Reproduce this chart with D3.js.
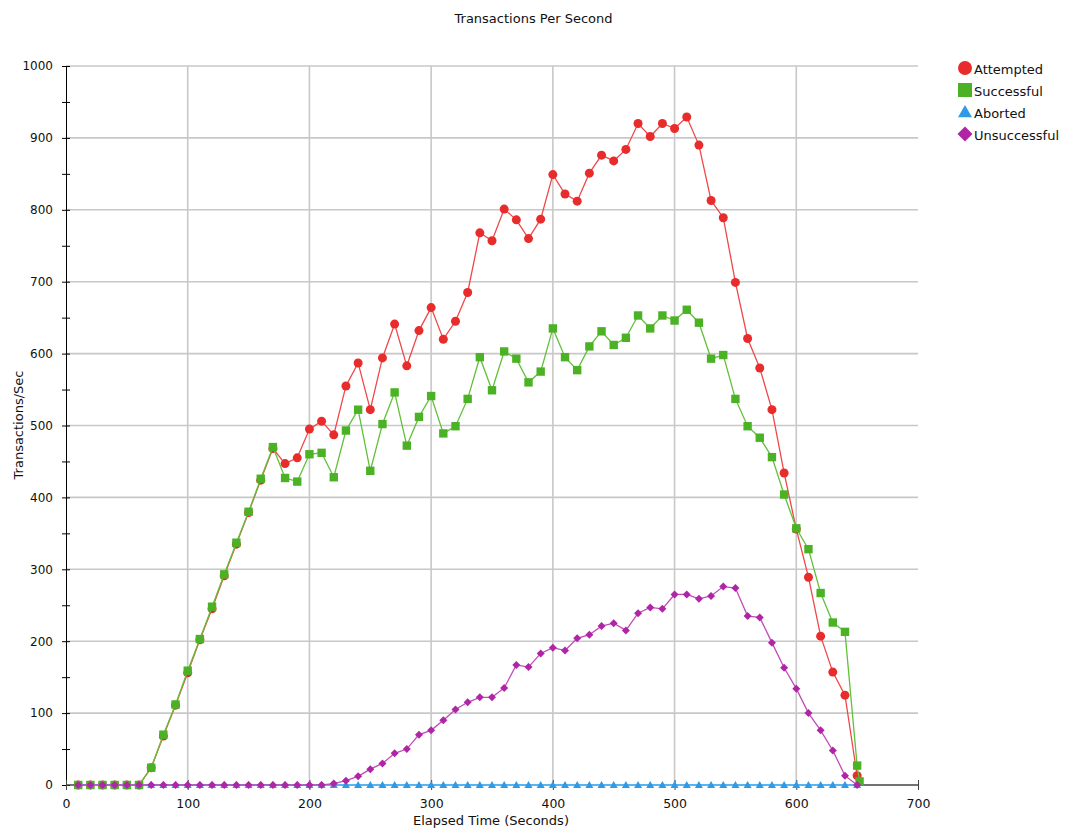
<!DOCTYPE html>
<html>
<head>
<meta charset="utf-8">
<script src="https://cdn.jsdelivr.net/npm/d3@7"></script>
<style>
  body { margin: 0; background: #fff; }
  svg { font-family: 'DejaVu Sans', sans-serif; }
</style>
</head>
<body>
<svg width="1069" height="830"></svg>
<script>
const width = 1069;
const height = 830;

// elapsed time (seconds) of each sample
const times = [10, 20, 30, 40, 50, 60, 70, 80, 90, 100, 110, 120, 130, 140, 150, 160,
    170, 180, 190, 200, 210, 220, 230, 240, 250, 260, 270, 280, 290, 300, 310, 320,
    330, 340, 350, 360, 370, 380, 390, 400, 410, 420, 430, 440, 450, 460, 470, 480,
    490, 500, 510, 520, 530, 540, 550, 560, 570, 580, 590, 600, 610, 620, 630, 640, 650];
const successfulTimes = times.concat([652]);

const attempted = [0, 0, 0, 0, 0, 0, 24, 68, 111, 156, 202, 245, 291, 335, 379, 424,
    468, 447, 455, 495, 506, 487, 555, 587, 522, 594, 641, 583, 632, 664, 620, 645,
    685, 768, 757, 801, 786, 760, 787, 849, 822, 812, 851, 876, 868, 884, 920, 902,
    920, 913, 929, 890, 813, 789, 699, 621, 580, 522, 434, 356, 289, 207, 157, 125, 13];
const successful = [0, 0, 0, 0, 0, 0, 24, 70, 112, 159, 203, 248, 293, 337, 380, 426,
    470, 427, 422, 460, 462, 428, 493, 522, 437, 502, 546, 472, 512, 541, 489, 499,
    537, 595, 549, 603, 593, 560, 575, 635, 595, 577, 610, 631, 612, 622, 653, 635,
    653, 646, 661, 643, 593, 598, 537, 499, 483, 456, 404, 357, 328, 267, 226, 213, 27, 5];
const aborted = [0, 0, 0, 0, 0, 0, 0, 0, 0, 0, 0, 0, 0, 0, 0, 0,
    0, 0, 0, 0, 0, 0, 0, 0, 0, 0, 0, 0, 0, 0, 0, 0,
    0, 0, 0, 0, 0, 0, 0, 0, 0, 0, 0, 0, 0, 0, 0, 0,
    0, 0, 0, 0, 0, 0, 0, 0, 0, 0, 0, 0, 0, 0, 0, 0, 0];
const unsuccessful = [0, 0, 0, 0, 0, 0, 0, 0, 0, 0, 0, 0, 0, 0, 0, 0,
    0, 0, 0, 0, 0, 2, 6, 12, 22, 30, 44, 50, 70, 76, 90, 105,
    115, 122, 122, 135, 167, 164, 183, 191, 187, 204, 209, 221, 225, 215, 239, 247,
    245, 265, 265, 259, 263, 276, 274, 235, 233, 198, 163, 134, 100, 76, 48, 13, 0];

const xTicks = [0, 100, 200, 300, 400, 500, 600, 700];
const yTicks = [0, 100, 200, 300, 400, 500, 600, 700, 800, 900, 1000];
const yMinorTicks = [50, 150, 250, 350, 450, 550, 650, 750, 850, 950];

const series = [
    { name: 'Attempted', t: times, v: attempted, line: '#f04848', fill: '#e82c2c', shape: 'circle' },
    { name: 'Successful', t: successfulTimes, v: successful, line: '#62c03a', fill: '#4cb225', shape: 'square' },
    { name: 'Aborted', t: times, v: aborted, line: '#5ab4ee', fill: '#2f9be6', shape: 'triangle' },
    { name: 'Unsuccessful', t: times, v: unsuccessful, line: '#c04cb6', fill: '#b024a6', shape: 'diamond' }
];

const plotLeft = 66, plotRight = 918, plotTop = 66, plotBottom = 785;

const x = d3.scaleLinear().domain([0, 700]).range([plotLeft, plotRight]);
const y = d3.scaleLinear().domain([0, 1000]).range([plotBottom, plotTop]);

const svg = d3.select('svg');

// marker shapes, s = half size
function marker(shape, s) {
    if (shape === 'circle') {
        return d3.symbol().type(d3.symbolCircle).size(Math.PI * s * s)();
    }
    if (shape === 'square') {
        return `M${-s},${-s}H${s}V${s}H${-s}Z`;
    }
    if (shape === 'triangle') {
        return `M0,${-s}L${s},${s * 0.75}L${-s},${s * 0.75}Z`;
    }
    return `M0,${-s}L${s},0L0,${s}L${-s},0Z`;
}

// grid
const grid = svg.append('g');
grid.selectAll('.hg')
    .data(yTicks.filter(d => d > 0))
    .enter()
    .append('line')
        .attr('x1', plotLeft)
        .attr('x2', plotRight)
        .attr('y1', d => y(d))
        .attr('y2', d => y(d))
        .attr('stroke', '#c8c8c8')
        .attr('stroke-width', 1.6);
grid.selectAll('.vg')
    .data(xTicks.filter(d => d > 0 && d < 700))
    .enter()
    .append('line')
        .attr('x1', d => x(d))
        .attr('x2', d => x(d))
        .attr('y1', plotTop)
        .attr('y2', plotBottom)
        .attr('stroke', '#c8c8c8')
        .attr('stroke-width', 1.6);

// y axis
const yAxis = svg.append('g')
    .attr('transform', `translate(${plotLeft},0)`)
    .call(d3.axisLeft(y).tickValues(yTicks).tickFormat(d3.format('d')).tickSize(4).tickPadding(9));
yAxis.select('.domain').attr('stroke', '#000').attr('d', `M0.5,${plotTop}V${plotBottom}`);
yAxis.selectAll('.tick line').attr('x1', 4).attr('x2', -4).attr('stroke', '#000');
yAxis.selectAll('.tick text')
    .style('font-family', "'DejaVu Sans', sans-serif")
    .style('font-size', '12px')
    .attr('fill', '#111');
yAxis.selectAll('.minor')
    .data(yMinorTicks)
    .enter()
    .append('line')
        .attr('x1', -4)
        .attr('x2', 4)
        .attr('y1', d => y(d) + 0.5)
        .attr('y2', d => y(d) + 0.5)
        .attr('stroke', '#000');

// x axis
const xAxis = svg.append('g')
    .attr('transform', `translate(0,${plotBottom})`)
    .call(d3.axisBottom(x).tickValues(xTicks).tickFormat(d3.format('d')).tickSize(5).tickPadding(9));
xAxis.select('.domain').attr('stroke', '#444').attr('stroke-width', 1.5).attr('d', `M${plotLeft},0H${plotRight}`);
xAxis.selectAll('.tick line').attr('y1', -5).attr('y2', 5).attr('stroke', '#444');
xAxis.selectAll('.tick text')
    .style('font-family', "'DejaVu Sans', sans-serif")
    .style('font-size', '12.5px')
    .attr('fill', '#111');

// series
for (const s of series) {
    const pts = s.t.map((t, i) => [t, s.v[i]]);
    const g = svg.append('g');
    g.append('path')
        .datum(pts)
        .attr('fill', 'none')
        .attr('stroke', s.line)
        .attr('stroke-width', s.shape === 'triangle' ? 2 : 1.3)
        .attr('d', d3.line().x(d => x(d[0])).y(d => y(d[1])));
    const size = { circle: 4.5, square: 4.2, triangle: 4, diamond: 4 }[s.shape];
    g.selectAll('.pt')
        .data(pts)
        .enter()
        .append('path')
            .attr('transform', d => `translate(${x(d[0])},${y(d[1])})`)
            .attr('d', marker(s.shape, size))
            .attr('fill', s.fill);
}

// titles
svg.append('text')
    .attr('x', 533.5)
    .attr('y', 23)
    .attr('text-anchor', 'middle')
    .style('font-size', '13px')
    .attr('fill', '#111')
    .text('Transactions Per Second');

svg.append('text')
    .attr('x', 491)
    .attr('y', 825)
    .attr('text-anchor', 'middle')
    .style('font-size', '13px')
    .attr('fill', '#111')
    .text('Elapsed Time (Seconds)');

svg.append('text')
    .attr('transform', 'translate(23,425) rotate(-90)')
    .attr('text-anchor', 'middle')
    .style('font-size', '13px')
    .attr('fill', '#111')
    .text('Transactions/Sec');

// legend
const legend = svg.append('g').attr('transform', 'translate(965,68)');
const legendSize = { circle: 7, square: 7, triangle: 7, diamond: 7.5 };
series.forEach((s, i) => {
    const row = legend.append('g').attr('transform', `translate(0,${i * 22})`);
    row.append('path')
        .attr('d', marker(s.shape, legendSize[s.shape]))
        .attr('fill', s.fill);
    row.append('text')
        .attr('x', 9)
        .attr('y', 6)
        .style('font-size', '13px')
        .attr('fill', '#111')
        .text(s.name);
});
</script>
</body>
</html>
